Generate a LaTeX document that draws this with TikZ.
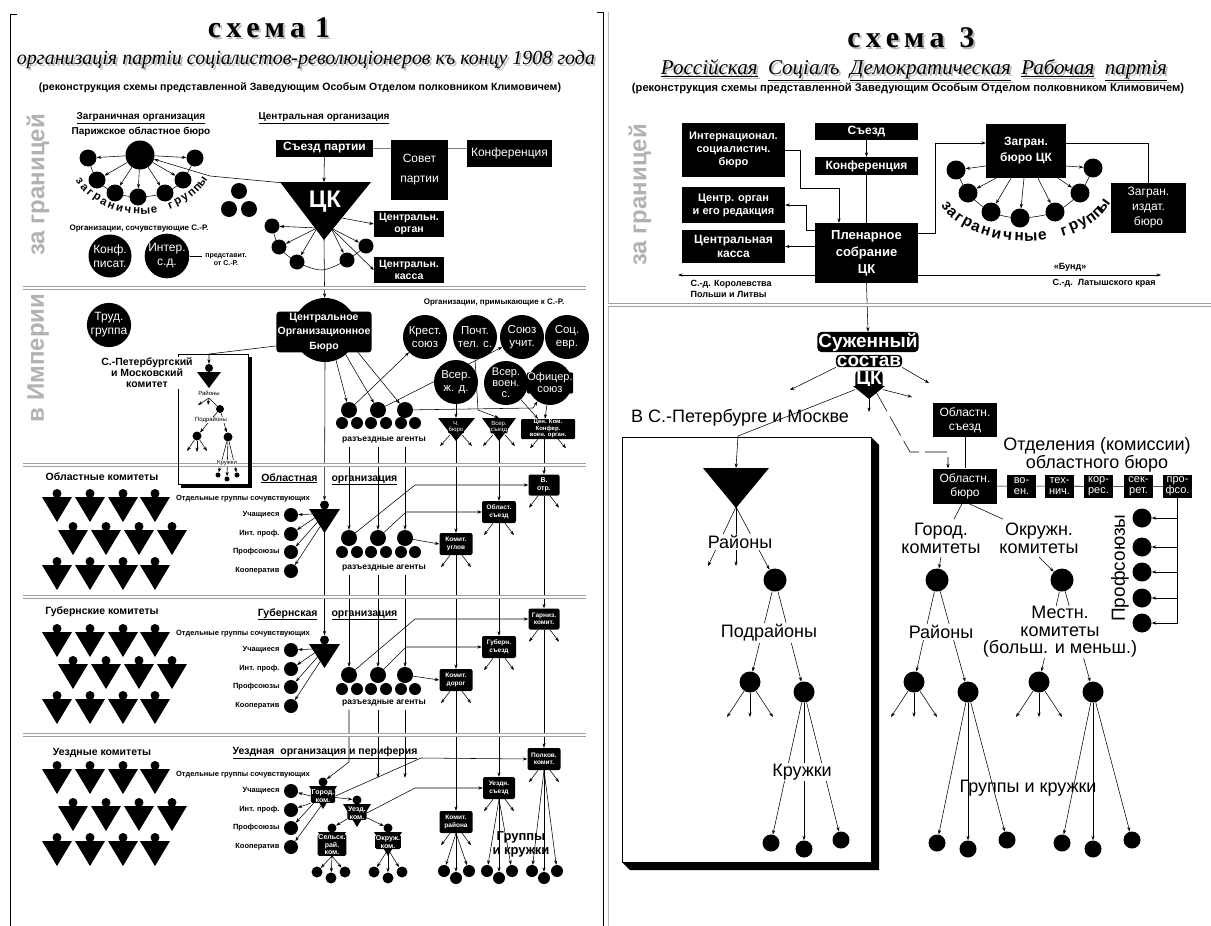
\documentclass[tikz,border=0pt]{standalone}
\usepackage{graphicx}
\usepackage{fontspec}
\setmainfont{Liberation Sans}
\newfontfamily\serifx{Liberation Serif}
\usetikzlibrary{arrows.meta,calc}
\pgfdeclarelayer{bg}
\pgfsetlayers{bg,main}
\newcommand{\fz}[2]{\fontsize{#1}{#2}\selectfont}
\newcommand{\ringA}{\bfseries\fontsize{11.5}{11.5}\selectfont}
\newcommand{\ringB}{\bfseries\fontsize{15.5}{15.5}\selectfont}
\newcommand{\hs}{\hspace{5pt}}
\tikzset{
  arr/.style={-{Stealth[length=4.5pt,width=3.2pt]}, line width=0.55pt},
  ln/.style={line width=0.55pt},
  bx/.style={fill=black, text=white, align=center, inner sep=0pt, font=\bfseries\fz{11}{12}},
  sbx/.style={bx, rounded corners=2pt, minimum width=33, minimum height=22, font=\bfseries\fz{6.5}{7.5}},
  bdot/.style={circle, fill=black, inner sep=0pt},
  oc/.style={bdot, minimum size=44, text=white, align=center, font=\fz{11.5}{12.5}},
  halo/.style={fill=black, text=white, align=center, inner sep=1.2pt, rounded corners=3pt},
  sepl/.style={draw=gray!75, line width=0.9pt, double=white, double distance=1.4pt},
  side/.style={rotate=90, text=gray!60, font=\bfseries\fz{24}{24}},
  sm/.style={font=\bfseries\fz{7.5}{8}},
  hd/.style={font=\bfseries\fz{10}{11}},
  lvl/.style={font=\bfseries\fz{10.5}{11}},
  lab/.style={font=\fz{18}{18}, align=center},
  persn/.pic={\fill (-15,0) -- (15,0) -- (0,25) -- cycle; \fill (0,-3.5) circle (4.5);}
}
\begin{document}
\begin{tikzpicture}[x=1pt,y=-1pt]
\useasboundingbox (0,0) rectangle (1211,926);
\begin{pgfonlayer}{bg}\fill[white] (0,0) rectangle (1211,926);\end{pgfonlayer}

% ================= LEFT PANEL =================
\draw[line width=0.8pt] (17,14) -- (10,14) -- (10,926);
\draw[line width=0.8pt] (597,12) -- (603,12) -- (603,926);
\draw[gray!55, line width=0.8pt] (608,12) -- (608,926);

\node[text=gray!55, font=\serifx\bfseries\fz{30}{30}] (t1s) at (271,30) {с\hs х\hs е\hs м\hs а\hs\hs 1};
\node[font=\serifx\bfseries\fz{30}{30}] (t1) at (269,28) {с\hs х\hs е\hs м\hs а\hs\hs 1};
\node[text=gray!55, font=\serifx\itshape\fz{17}{17}] (st1s) at (308,62) {\resizebox{578pt}{!}{организацiя партiи соцiалистов-революцiонеров къ концу 1908 года}};
\node[font=\serifx\itshape\fz{17}{17}] (st1) at (306,60) {\resizebox{578pt}{!}{организацiя партiи соцiалистов-революцiонеров къ концу 1908 года}};
\node[font=\bfseries\fz{10}{11}] (rec1) at (300,88) {\resizebox{522pt}{!}{(реконструкция схемы представленной Заведующим Особым Отделом полковником Климовичем)}};

\node[side] (zg1) at (38,185) {за границей};
\node[side] (imp) at (38,358) {в Империи};

\node[hd] (zo) at (141,118) {\underline{Заграничная организация}};
\node[hd] (pob) at (141,132) {Парижское областное бюро};
\node[hd] (cen) at (324,118) {\underline{Центральная организация}};

\node[bx, minimum width=97, minimum height=17, font=\bfseries\fz{12}{13}] (sezd) at (324.5,148) {Съезд партии};
\node[bx, minimum width=57, minimum height=60, font=\fz{12}{20}] (sovet) at (419.5,170) {Совет\\партии};
\node[bx, minimum width=85, minimum height=27, font=\fz{12}{13}] (konf) at (509.5,153) {Конференция};

\fill (280,182) -- (371,182) -- (324,240) -- cycle;
\coordinate (ckT) at (324,182); \coordinate (ckTL) at (284,183); \coordinate (ckA) at (324,239);
\coordinate (ckL) at (317,228); \coordinate (ckR) at (331,228); \coordinate (ckR2) at (342,218);
\node[text=white, font=\bfseries\fz{24}{24}] (ckt) at (325,202) {ЦК};

\node[bdot, minimum size=29] (paris) at (140,155) {};
\foreach \n/\x/\y in {1/88/158,2/97/180,3/115/193,4/138/197,5/165/193,6/183/180,7/195/158}
  \node[bdot, minimum size=17] (g\n) at (\x,\y) {};
\foreach \ch [count=\i from 0] in {з,а,г,р,а,н,и,ч,н,ы,е,{},г,р,у,п,п,ы} {
  \pgfmathsetmacro\angA{150-\i*120/17}
  \pgfmathsetmacro\rotA{atan2(59*cos(\angA),71*sin(\angA))}
  \node[font=\ringA, rotate=\rotA, inner sep=0pt] (lz\i) at ({141+71*cos(\angA)},{152+59*sin(\angA)}) {\ch};
}

\node[bdot, minimum size=16] (s1) at (239,191) {};
\node[bdot, minimum size=16] (s2) at (229,209) {};
\node[bdot, minimum size=16] (s3) at (249,209) {};
\node[font=\bfseries\fz{8}{9}] (osoc) at (139,229) {Организации, сочувствующие С.-Р.};
\node[bdot, minimum size=43, text=white, align=center, font=\fz{12}{14}] (kp) at (110,256) {Конф.\\писат.};
\node[bdot, minimum size=43, text=white, align=center, font=\fz{12}{14}] (isd) at (167,256) {Интер.\\с.д.};
\node[font=\bfseries\fz{7}{8}, align=center] (pred) at (226,260) {представит.\\от С.-Р.};

\foreach \n/\x/\y in {1/272/226,2/279/247,3/297/262,4/347/260,5/366/246}
  \node[bdot, minimum size=15] (c\n) at (\x,\y) {};
\node[bx, minimum width=70, minimum height=26, font=\bfseries\fz{10.5}{12}] (corg1) at (409,224) {Центральн.\\орган};
\node[bx, minimum width=70, minimum height=26, font=\bfseries\fz{10.5}{12}] (ckas1) at (409,270) {Центральн.\\касса};

\draw[sepl] (23,288) -- (586,288);
\draw[sepl] (23,465) -- (586,465);
\draw[sepl] (23,597) -- (586,597);
\draw[sepl] (23,735) -- (586,735);

% ---- Empire ----
\node[bdot, minimum size=42, text=white, align=center, font=\fz{12}{14}] (trud) at (109,325) {Труд.\\группа};
\node[bdot, minimum size=64] (cob) at (325,330) {};
\node[halo, font=\bfseries\fz{10.5}{14.5}] (cobt) at (324,332) {Центральное\\Организационное\\Бюро};
\node[font=\bfseries\fz{8}{9}] (prim) at (494,303) {Организации, примыкающие к С.-Р.};
\node[oc] (krest) at (425,337) {Крест.\\союз};
\node[oc] (pocht) at (475,337) {Почт.\\тел. с.};
\node[oc] (soyuz) at (522,337) {Союз\\учит.};
\node[oc] (socevr) at (567,337) {Соц.\\евр.};
\node[oc] (vsjd) at (456,382) {Всер.\\ж. д.};
\node[oc, font=\fz{11}{11}] (vsvoen) at (506,383) {Всер.\\воен.\\с.};
\node[oc] (ofic) at (550,383) {};
\node[halo, font=\fz{11}{12}, inner sep=0.6pt, rounded corners=2pt] (oft) at (550,383) {Офицер.\\союз};

\draw[line width=0.7pt] (178,354) rectangle (248,484);
\fill (248,357) rectangle (252,488);
\fill (181,484) rectangle (252,488);
\node[font=\bfseries\fz{10.5}{11}, align=center, fill=white, inner sep=1pt] (spbt) at (147,373) {С.-Петербургский\\и Московский\\комитет};
\fill (197,372) -- (221,372) -- (209,388) -- cycle;
\node[bdot, minimum size=8] (spbH) at (209,368) {};
\coordinate (spbJ) at (209,354);
\node[font=\fz{6}{6}] (ray1) at (209,393) {Районы};
\coordinate (rp) at (209,398);
\node[bdot, minimum size=8] (spbR) at (220,409) {};
\node[font=\fz{6}{6}, fill=white, inner sep=0.5pt] (pod1) at (211,420) {Подрайоны};
\node[bdot, minimum size=9] (spbA) at (197,436) {};
\node[bdot, minimum size=9] (spbB) at (228,437) {};
\node[font=\fz{6}{6}, fill=white, inner sep=0.3pt] (kr1) at (227,463) {Кружки};
\node[bdot, minimum size=5] (kd1) at (218,475) {};
\node[bdot, minimum size=5] (kd2) at (227,479) {};
\node[bdot, minimum size=5] (kd3) at (237,475) {};

\foreach \n/\x in {a/349,b/378,c/405} {
  \node[bdot, minimum size=16] (ag1\n) at (\x,410) {};
  \node[bdot, minimum size=16] (ag2\n) at (\x,538) {};
  \node[bdot, minimum size=16] (ag3\n) at (\x,675) {};
}
\foreach \x in {342,357,371,386,401,415} {
  \node[bdot, minimum size=12] (ags1-\x) at (\x,423) {};
  \node[bdot, minimum size=12] (ags2-\x) at (\x,552) {};
  \node[bdot, minimum size=12] (ags3-\x) at (\x,689) {};
}
\node[font=\bfseries\fz{8.5}{9}] (ag1l) at (384,440) {разъездные агенты};
\node[font=\bfseries\fz{8.5}{9}] (ag2l) at (384,568) {разъездные агенты};
\node[font=\bfseries\fz{8.5}{9}] (ag3l) at (384,703) {разъездные агенты};

\fill (438,418) -- (475,418) -- (456,441) -- cycle;
\coordinate (chT) at (456,418); \coordinate (chA) at (456,440);
\node[halo, font=\fz{6}{6.5}, inner sep=0.5pt, rounded corners=1pt] (cht) at (456,427) {Ч.\\бюро};
\fill (482,418) -- (516,418) -- (499,441) -- cycle;
\coordinate (vsT) at (499,418); \coordinate (vsA) at (499,440);
\node[halo, font=\fz{6}{6.5}, inner sep=0.5pt, rounded corners=1pt] (vst) at (499,427) {Всер.\\съезд};
\node[bx, rounded corners=1pt, minimum width=54, minimum height=20, font=\bfseries\fz{6}{6.5}] (ckk) at (548,429) {Цен. Ком.\\Конфер.\\воен. орган.};

% ---- level headers and pins ----
\node[lvl] (oblk) at (102,477) {Областные комитеты};
\node[lvl, anchor=base east] (obla) at (321,481) {\underline{Областная}};
\node[lvl, anchor=base west] (oblb) at (328,481) {\underline{организация}};
\node[lvl] (gubk) at (102,612) {Губернские комитеты};
\node[lvl, anchor=base east] (guba) at (321,616) {\underline{Губернская}};
\node[lvl, anchor=base west] (gubb) at (328,616) {\underline{организация}};
\node[lvl] (uzk) at (102,753) {Уездные комитеты};
\node[lvl] (uzo) at (325,753) {\underline{Уездная\ \ организация и периферия}};

\foreach \x in {57,90,123,155} {\pic at (\x,497) {persn}; \pic at (\x,565) {persn};
  \pic at (\x,632) {persn}; \pic at (\x,699) {persn};
  \pic at (\x,769) {persn}; \pic at (\x,841) {persn};}
\foreach \x in {73,106,139,172} {\pic at (\x,530) {persn}; \pic at (\x,664) {persn}; \pic at (\x,806) {persn};}

\node[sm] (og1) at (243,499) {Отдельные группы сочувствующих};
\node[sm] (og2) at (243,634) {Отдельные группы сочувствующих};
\node[sm] (og3) at (243,775) {Отдельные группы сочувствующих};

\foreach \L/\b in {o/515, g/650, u/791} {
  \foreach \n/\t/\d in {1/Учащиеся/0, 2/Инт. проф./19, 3/Профсоюзы/37, 4/Кооператив/56} {
    \node[sm, anchor=east] (\L-l\n) at (283,\b+\d) {\t};
    \node[bdot, minimum size=14] (\L-c\n) at (291,\b+\d) {};
  }
}

\fill (309,509) -- (340,509) -- (324.5,533) -- cycle;
\node[bdot, minimum size=9] (oblH) at (324.5,505) {};
\coordinate (oblA) at (324.5,532);
\fill (309,644) -- (340,644) -- (324.5,668) -- cycle;
\node[bdot, minimum size=9] (gubH) at (324.5,640) {};
\coordinate (gubA) at (324.5,667);

\node[sbx] (kug) at (456,544) {Комит.\\углов};
\node[sbx, minimum width=34] (obs) at (499,512) {Област.\\съезд};
\node[sbx, minimum width=31, minimum height=21, font=\bfseries\fz{7}{8}] (votr) at (544,485) {В.\\отр.};
\node[sbx] (kdor) at (456,680) {Комит.\\дорог};
\node[sbx, minimum width=34] (gsez) at (499,647) {Губерн.\\съезд};
\node[sbx, minimum width=31, minimum height=21] (gkom) at (544,619) {Гарниз.\\комит.};
\node[sbx] (krai) at (456,822) {Комит.\\района};
\node[sbx, minimum width=32] (usez) at (499,788) {Уездн.\\съезд};
\node[sbx, minimum width=33] (polk) at (544,759) {Полков.\\комит.};

% uezd pins with text
\fill (309,786) -- (337,786) -- (323,809) -- cycle;
\node[bdot, minimum size=9] (gorH) at (323,782) {};
\node[halo, font=\bfseries\fz{7}{7.5}, inner sep=0.8pt, rounded corners=1.5pt] (gort) at (323,796) {Город.\\ком.};
\fill (343,804) -- (371,804) -- (357,827) -- cycle;
\node[bdot, minimum size=9] (uzdH) at (357,800) {};
\node[halo, font=\bfseries\fz{7}{7.5}, inner sep=0.8pt, rounded corners=1.5pt] (uzdt) at (357,813) {Уезд.\\ком.};
\fill (318,832) -- (346,832) -- (332,858) -- cycle;
\node[bdot, minimum size=9] (selH) at (332,828) {};
\node[halo, font=\bfseries\fz{7}{7.5}, inner sep=0.8pt, rounded corners=1.5pt] (selt) at (332,845) {Сельск.\\рай.\\ком.};
\fill (374,832) -- (402,832) -- (388,856) -- cycle;
\node[bdot, minimum size=9] (okrH) at (388,828) {};
\node[halo, font=\bfseries\fz{7}{7.5}, inner sep=0.8pt, rounded corners=1.5pt] (okrt) at (388,842) {Окруж.\\ком.};
\foreach \b/\x in {selt/331, okrt/388} {
  \node[bdot, minimum size=11] (\b-d1) at (\x-14,872) {};
  \node[bdot, minimum size=11] (\b-d2) at (\x,878) {};
  \node[bdot, minimum size=11] (\b-d3) at (\x+14,872) {};
}
\foreach \b/\x in {krai/456, usez/499, polk/544} {
  \node[bdot, minimum size=12] (\b-d1) at (\x-12,871) {};
  \node[bdot, minimum size=12] (\b-d2) at (\x,878) {};
  \node[bdot, minimum size=12] (\b-d3) at (\x+13,871) {};
}
\node[font=\bfseries\fz{13}{14}, align=center] (grk1) at (521,844) {Группы\\и кружки};

% ================= RIGHT PANEL =================
\node[text=gray!55, font=\serifx\bfseries\fz{30}{30}] (t3s) at (913,40) {с\hs х\hs е\hs м\hs а\hs\hs\hs 3};
\node[font=\serifx\bfseries\fz{30}{30}] (t3) at (911,38) {с\hs х\hs е\hs м\hs а\hs\hs\hs 3};
\node[text=gray!55, font=\serifx\itshape\fz{17}{17}] (st3s) at (916,72) {\resizebox{506pt}{!}{\underline{Россiйская}\ \ \underline{Соцiалъ}\ \ \underline{Демократическая}\ \ \underline{Рабочая}\ \ \underline{партiя}}};
\node[font=\serifx\itshape\fz{17}{17}] (st3) at (914,70) {\resizebox{506pt}{!}{\underline{Россiйская}\ \ \underline{Соцiалъ}\ \ \underline{Демократическая}\ \ \underline{Рабочая}\ \ \underline{партiя}}};
\node[font=\bfseries\fz{10}{11}] (rec3) at (908,89) {\resizebox{552pt}{!}{(реконструкция схемы представленной Заведующим Особым Отделом полковником Климовичем)}};
\node[side] (zg3) at (640,195) {за границей};

\node[bx, minimum width=103, minimum height=54, font=\bfseries\fz{11}{13}] (intl) at (733.5,150) {Интернационал.\\социалистич.\\бюро};
\node[bx, minimum width=103, minimum height=36, font=\bfseries\fz{11}{13}] (corg) at (733.5,205) {Центр. орган\\и его редакция};
\node[bx, minimum width=103, minimum height=33, font=\bfseries\fz{12}{14}] (ckas) at (733.5,246.5) {Центральная\\касса};
\node[bx, minimum width=103, minimum height=17, font=\bfseries\fz{12}{13}] (rsezd) at (866.5,131.5) {Съезд};
\node[bx, minimum width=103, minimum height=18, font=\bfseries\fz{12}{13}] (rkonf) at (866.5,166) {Конференция};
\node[bx, minimum width=103, minimum height=60, font=\bfseries\fz{13}{17}] (plen) at (866.5,253) {Пленарное\\собрание\\ЦК};
\node[bx, minimum width=80, minimum height=54, font=\bfseries\fz{12}{16}] (zbur) at (1026,151) {Загран.\\бюро ЦК};
\node[bx, minimum width=75, minimum height=50, font=\fz{12}{15}] (zizd) at (1148.5,208) {Загран.\\издат.\\бюро};
\foreach \n/\x/\y in {1/956/170,2/968/193,3/991/212,4/1020/218,5/1055/212,6/1080/193,7/1093/168}
  \node[bdot, minimum size=19] (rg\n) at (\x,\y) {};
\foreach \ch [count=\i from 0] in {з,а,г,р,а,н,и,ч,н,ы,е,{},г,р,у,п,п,ы} {
  \pgfmathsetmacro\angA{156-\i*132/17}
  \pgfmathsetmacro\rotA{atan2(52*cos(\angA),86*sin(\angA))}
  \node[font=\ringB, rotate=\rotA, inner sep=0pt] (rz\i) at ({1025+86*cos(\angA)},{185+52*sin(\angA)}) {\ch};
}

\coordinate (bL) at (678,275); \coordinate (bR) at (1161,275);
\node[font=\bfseries\fz{9}{11}, align=left, anchor=west] (kor) at (687,289) {С.-д. Королевства\\Польши и Литвы};
\node[font=\bfseries\fz{9}{10}] (bund) at (1070,267) {«Бунд»};
\node[font=\bfseries\fz{9}{10}, anchor=west] (lat) at (1049,283) {С.-д.\ \ Латышского края};

\draw[sepl] (608,305) -- (1211,305);

\node[halo, font=\bfseries\fz{19}{19}, inner sep=1pt, rounded corners=4pt] (sz1) at (868,342) {Суженный};
\node[halo, font=\bfseries\fz{19}{19}, inner sep=1pt, rounded corners=4pt] (sz2) at (869,361) {состав};
\node[halo, font=\bfseries\fz{19}{19}, inner sep=1pt, rounded corners=4pt] (sz3) at (869,380) {ЦК};
\fill (853,386) -- (885,386) -- (869,399) -- cycle;
\coordinate (szA) at (869,397);
\coordinate (szR) at (876,392);

\node[lab] (spbl) at (740,418) {В С.-Петербурге и Москве};
\draw[line width=0.7pt] (622,437) rectangle (871,862);
\fill (871,437) -- (879,445) -- (879,870) -- (630,870) -- (622,862) -- (871,862) -- cycle;
\fill (703,468) -- (769,468) -- (736,508) -- cycle;
\coordinate (spbT) at (736,468); \coordinate (spbA2) at (736,507);
\node[bdot, minimum size=23] (rC) at (775,580) {};
\node[lab, fill=white, inner sep=1pt] (rRay) at (740,542) {Районы};
\node[lab, fill=white, inner sep=1pt] (rPod) at (769,633) {Подрайоны};
\node[bdot, minimum size=21] (rA) at (750,682) {};
\node[bdot, minimum size=21] (rB) at (804,692) {};
\node[lab, fill=white, inner sep=1pt] (rKr) at (802,772) {Кружки};
\node[bdot, minimum size=17] (rd1) at (771,843) {};
\node[bdot, minimum size=17] (rd2) at (804,849) {};
\node[bdot, minimum size=17] (rd3) at (841,840) {};

\node[bx, minimum width=64, minimum height=34, font=\fz{12}{14}] (osez) at (965,420) {Областн.\\съезд};
\node[bx, minimum width=64, minimum height=35, font=\fz{12}{14}] (obur) at (965,486) {Областн.\\бюро};
\node[lab] (otd) at (1097,455) {Отделения (комиссии)\\областного бюро};
\node[bx, minimum width=29, minimum height=23, font=\fz{11}{11}] (d1) at (1021.5,486.5) {во-\\ен.};
\node[bx, minimum width=29, minimum height=23, font=\fz{11}{11}] (d2) at (1059.5,486.5) {тех-\\нич.};
\node[bx, minimum width=29, minimum height=23, font=\fz{11}{11}] (d3) at (1098.5,486.5) {кор-\\рес.};
\node[bx, minimum width=29, minimum height=23, font=\fz{11}{11}] (d4) at (1138.5,486.5) {сек-\\рет.};
\node[bx, minimum width=29, minimum height=23, font=\fz{11}{11}] (d5) at (1177.5,486.5) {про-\\фсо.};

\node[lab] (gkt) at (941,538) {Город.\\комитеты};
\node[lab] (okt) at (1039,538) {Окружн.\\комитеты};
\node[bdot, minimum size=23] (gC) at (937,580) {};
\node[bdot, minimum size=23] (oC) at (1062,580) {};
\node[lab, fill=white, inner sep=1pt] (gRay) at (941,632) {Районы};
\node[lab, fill=white, inner sep=0.5pt, font=\fz{18}{17.5}] (mest) at (1060,632) {Местн.\\комитеты\\(больш. и меньш.)};
\foreach \n/\y in {1/518,2/547,3/572,4/598,5/623}
  \node[bdot, minimum size=19] (pc\n) at (1142,\y) {};
\node[lab, rotate=90, font=\fz{19}{19}] (prof) at (1120,568) {Профсоюзы};
\node[bdot, minimum size=21] (gA) at (914,682) {};
\node[bdot, minimum size=21] (gB) at (968,692) {};
\node[bdot, minimum size=21] (oA) at (1039,682) {};
\node[bdot, minimum size=21] (oB) at (1093,692) {};
\node[lab] (grk2) at (1028,788) {Группы и кружки};
\node[bdot, minimum size=17] (gd1) at (937,843) {};
\node[bdot, minimum size=17] (gd2) at (968,849) {};
\node[bdot, minimum size=17] (gd3) at (1007,840) {};
\node[bdot, minimum size=17] (od1) at (1062,843) {};
\node[bdot, minimum size=17] (od2) at (1093,849) {};
\node[bdot, minimum size=17] (od3) at (1132,840) {};

% ================= CONNECTORS =================
\begin{pgfonlayer}{bg}
% left abroad
\draw[ln, gray] (sezd.east) -- (sezd.east -| sovet.west);
\draw[ln, gray] (sezd.east -| sovet.east) -- (sezd.east -| konf.west);
\draw[arr] (sezd) -- (ckT);
\foreach \n in {1,...,7} \draw[arr] (paris) -- (g\n);
\draw[ln] plot[smooth] coordinates {(g1.center) (g2.center) (g3.center) (g4.center) (g5.center) (g6.center) (g7.center)};
\draw[arr] (ckTL) -- (210,176) -- (paris);
\draw[ln] (isd) -- (pred.west |- isd);
\draw[ln] plot[smooth] coordinates {(c1.center) (c2.center) (c3.center) (322,270) (c4.center) (c5.center)};
\draw[arr] (ckL) -- (c1); \draw[arr] (ckL) -- (c2); \draw[arr] (ckL) -- (c3);
\draw[arr] (ckR) -- (c4); \draw[arr] (ckR) -- (c5);
\draw[arr] (ckR2) -- (corg1.west);
\draw[arr] (ckR) -- (ckas1.west);
\draw[arr] (ckA) -- (cob);
% empire
\draw[arr] (cob.205) -- (spbJ) -- (spbH);
\draw[arr] (rp) -- ++(-11,7); \draw[arr] (rp) -- ++(-1,7); \draw[ln] (rp) -- (spbR);
\draw[arr] (spbR) -- (spbA); \draw[arr] (spbR) -- (spbB);
\draw[arr] (spbA) -- ++(-10,15); \draw[arr] (spbA) -- ++(0,16); \draw[arr] (spbA) -- ++(10,15);
\draw[arr] (spbB) -- (kd1); \draw[arr] (spbB) -- (kd2); \draw[arr] (spbB) -- (kd3);
\draw[arr] (cob.290) -- (ag1a); \draw[arr] (cob.310) -- (ag1b); \draw[arr] (cob.330) -- (ag1c);
\draw[arr] (ag1a) -- (krest);
\draw[arr] (ag1b) -- (soyuz);
\draw[arr] (ag1c) -- (533,408) -- (ofic);
\draw[arr] (vsjd) -- (chT);
\draw[arr] (pocht.south) -- (478,410) -- (vsT);
\draw[arr] (vsvoen) -- ([xshift=-10pt]ckk.north);
\draw[arr] (ofic) -- ([xshift=-3pt]ckk.north);
\draw[arr] (chA) ++(-6,-5) -- ++(-10,11); \draw[arr] (chA) ++(6,-5) -- ++(10,11);
\draw[arr] (vsA) ++(-6,-5) -- ++(-10,11); \draw[arr] (vsA) ++(6,-5) -- ++(10,11);
\draw[arr] (ckk.south) ++(-10,0) -- ++(-8,9); \draw[arr] (ckk.south) ++(10,0) -- ++(8,9);
\draw[arr] (chA) -- (kug.north);
\draw[arr] (vsA) -- (obs.north);
\draw[arr] (votr.north |- ckk.south) -- (votr.north);
% oblast
\draw[arr] (cob.south) -- (oblH);
\draw[arr] (oblA) -- (gubH);
\foreach \n/\dx/\dy in {1/-12/-18, 2/-10/-14, 3/-7/-10, 4/-4/-6} {
  \draw[arr] (oblA) ++(\dx,\dy) -- (o-c\n);
  \draw[arr] (gubA) ++(\dx,\dy) -- (g-c\n);
}
\foreach \n in {a,b,c} {
  \draw[arr] (ag1\n |- ag1l.south) -- (ag2\n);
  \draw[arr] (ag2\n |- ag2l.south) -- (ag3\n);
}
\draw[arr] (ag2a) -- (415,485) -- (votr.west);
\draw[arr] (ag2b) -- (406,512) -- (obs.west);
\draw[arr] (ag2c) -- (kug.west);
\draw[arr] (kug.south) -- (kdor.north);
\draw[arr] (obs.south) -- (gsez.north);
\draw[arr] (votr.south) -- (gkom.north);
% gub
\draw[arr] (ag3a) -- (415,619) -- (gkom.west);
\draw[arr] (ag3b) -- (406,647) -- (gsez.west);
\draw[arr] (ag3c) -- (kdor.west);
\draw[arr] (kdor.south) -- (krai.north);
\draw[arr] (gsez.south) -- (usez.north);
\draw[arr] (gkom.south) -- (polk.north);
\foreach \b in {kug,obs,votr,kdor,gsez,gkom,krai,usez,polk} {
  \draw[arr] (\b.south) ++(-6,0) -- ++(-9,12);
  \draw[arr] (\b.south) ++(6,0) -- ++(9,12);
}
% uezd
\draw[arr] (ag3a |- ag3l.south) -- (349,762) -- (gorH);
\draw[arr] (ag3b |- ag3l.south) -- ++(0,68);
\draw[arr] (ag3c |- ag3l.south) -- ++(0,68);
\draw[arr] (gort.east) -- (421,758) -- (polk.west);
\draw[arr] (uzdt.east) -- (415,788) -- (usez.west);
\draw[arr] (gort.west) -- (u-c1);
\draw[arr] (gort.south west) -- (u-c2);
\draw[arr] ([xshift=3pt]gort.south west) -- (u-c3);
\draw[arr] (gort.south) -- (u-c4);
\draw[arr] (gort) -- (uzdH);
\draw[arr] (uzdt) -- (selH);
\draw[arr] (uzdt) -- (okrH);
\foreach \b in {selt,okrt,krai,usez,polk} \foreach \n in {1,2,3} \draw[arr] (\b.south) -- (\b-d\n);

% right abroad
\draw[arr] (rsezd) -- (rkonf);
\draw[ln] (rkonf) -- (plen);
\draw[arr] (intl.east) -- ++(15,0) |- (839,188) -- ([xshift=-27.5pt]plen.north);
\draw[arr] ([yshift=-7pt]plen.north west) -- ++(-9,0) |- (corg.east);
\draw[arr] (plen.west |- ckas.east) -- (ckas.east);
\draw[{Stealth[length=4.5pt,width=3.2pt]}-{Stealth[length=4.5pt,width=3.2pt]}, line width=0.55pt] (bL) -- (bR);
\draw[arr] ([yshift=-10pt]plen.north east) -- ++(17,0) |- ([yshift=8pt]zbur.west);
\draw[ln] ([yshift=8pt]zbur.east) -| (zizd.north);
\draw[ln] plot[smooth] coordinates {(rg1.center) (rg2.center) (rg3.center) (rg4.center) (rg5.center) (rg6.center) (rg7.center)};
\draw[arr] ([yshift=-15pt]zbur.west) -- (rg1);
\draw[arr] ([xshift=-30pt]zbur.south) -- (rg2);
\draw[arr] ([xshift=-15pt]zbur.south) -- (rg3);
\draw[arr] ([xshift=-2pt]zbur.south) -- (rg4);
\draw[arr] ([xshift=12pt]zbur.south) -- (rg5);
\draw[arr] ([xshift=32pt]zbur.south) -- (rg6);
\draw[arr] ([yshift=-15pt]zbur.east) -- (rg7);
% right lower
\draw[arr] (plen.south) -- (sz1.north);
\draw[arr] (sz2.south west) -- (790,390);
\draw[arr] (sz2.south east) -- (929,383);
\draw[arr] (sz3.south east) -- (912,397);
\draw[arr] (szA) -- ++(0,15);
\draw[arr] (sz3.south west) -- (738,436) -- (spbT);
\draw[arr, dash pattern=on 22pt off 6pt] (szR) -- (910,452) -- (948,452) -- ([xshift=-17pt]obur.north);
\draw[arr] (spbA2) -- (708,566);
\draw[arr] (spbA2) -- (736,566);
\draw[arr] (spbA2) -- (rC);
\draw[arr] (rC) -- (rA); \draw[arr] (rC) -- (rB);
\draw[arr] (rA) -- ++(-23,35); \draw[arr] (rA) -- ++(0,35); \draw[arr] (rA) -- ++(23,35);
\draw[arr] (rB) -- (rd1); \draw[arr] (rB) -- (rd2); \draw[arr] (rB) -- (rd3);
\draw[ln] (osez) -- (obur);
\draw[ln] (obur) -- (d5);
\draw[ln] (d5.south) -- (d5.south |- pc5);
\foreach \n in {1,...,5} \draw[arr] (d5.south |- pc\n) -- (pc\n);
\draw[ln] ([xshift=-3pt]obur.south) -- ([xshift=13pt]gkt.north);
\draw[ln] ([xshift=4pt]obur.south) -- ([xshift=-36pt]okt.north);
\draw[arr] (gkt.south) -- (gC);
\draw[arr] (okt.south) -- (oC);
\draw[arr] (gC) -- (gA); \draw[arr] (gC) -- (gB);
\draw[arr] (oC) -- (oA); \draw[arr] (oC) -- (oB);
\draw[arr] (gA) -- ++(-23,35); \draw[arr] (gA) -- ++(0,35); \draw[arr] (gA) -- ++(23,35);
\draw[arr] (oA) -- ++(-23,35); \draw[arr] (oA) -- ++(0,35); \draw[arr] (oA) -- ++(23,35);
\draw[arr] (gB) -- (gd1); \draw[arr] (gB) -- (gd2); \draw[arr] (gB) -- (gd3);
\draw[arr] (oB) -- (od1); \draw[arr] (oB) -- (od2); \draw[arr] (oB) -- (od3);
\end{pgfonlayer}
\end{tikzpicture}
\end{document}
